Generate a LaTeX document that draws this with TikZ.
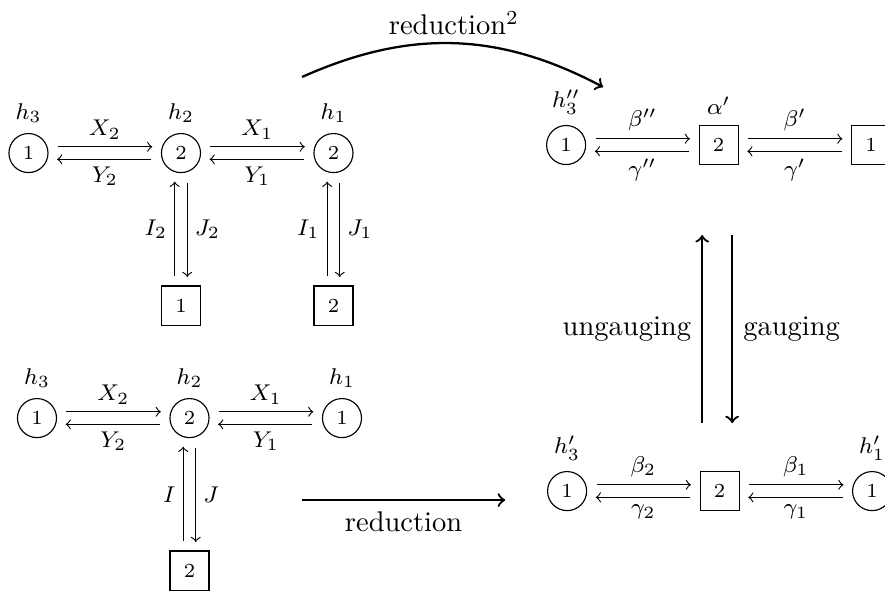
\documentclass[tikz,border=0pt]{standalone}
\usepackage{amsmath}
\usepackage{tikz}
\usetikzlibrary{positioning}
\tikzset{
  gnode/.style={draw, circle, minimum size=13.7pt, inner sep=0pt, font=\scriptsize},
  fnode/.style={draw, minimum size=13.7pt, inner sep=0pt, font=\scriptsize},
  lbl/.style={font=\footnotesize, inner sep=2.5pt},
  big/.style={inner sep=3.5pt},
  sig/.style={->, thin, shorten >=3pt, shorten <=3.3pt},
  bsig/.style={->, thick},
}
\begin{document}
\begin{tikzpicture}[node distance=1.88cm, on grid, label distance=1pt]
    \useasboundingbox (0,0) rectangle (10.91,-7.31);
    % upper left quiver
    \node[gnode,label={[lbl]above:$h_3$}] (u3) at (0.351,-1.887) {1};
    \node[gnode,right=of u3,label={[lbl]above:$h_2$}] (u2) {2};
    \node[gnode,right=of u2,label={[lbl]above:$h_1$}] (u1) {2};
    \node[fnode,below=of u2] (uf2) {1};
    \node[fnode,below=of u1] (uf1) {2};
    \draw[sig] ([yshift=2.2pt]u3.east) -- node[lbl,above]{$X_2$} ([yshift=2.2pt]u2.west);
    \draw[sig] ([yshift=-2.2pt]u2.west) -- node[lbl,below]{$Y_2$} ([yshift=-2.2pt]u3.east);
    \draw[sig] ([yshift=2.2pt]u2.east) -- node[lbl,above]{$X_1$} ([yshift=2.2pt]u1.west);
    \draw[sig] ([yshift=-2.2pt]u1.west) -- node[lbl,below]{$Y_1$} ([yshift=-2.2pt]u2.east);
    \draw[sig] ([xshift=-2.2pt]uf2.north) -- node[lbl,left]{$I_2$} ([xshift=-2.2pt]u2.south);
    \draw[sig] ([xshift=2.2pt]u2.south) -- node[lbl,right]{$J_2$} ([xshift=2.2pt]uf2.north);
    \draw[sig] ([xshift=-2.2pt]uf1.north) -- node[lbl,left]{$I_1$} ([xshift=-2.2pt]u1.south);
    \draw[sig] ([xshift=2.2pt]u1.south) -- node[lbl,right]{$J_1$} ([xshift=2.2pt]uf1.north);
    % lower left quiver
    \node[gnode,label={[lbl]above:$h_3$}] (l3) at (0.456,-5.154) {1};
    \node[gnode,right=of l3,label={[lbl]above:$h_2$}] (l2) {2};
    \node[gnode,right=of l2,label={[lbl]above:$h_1$}] (l1) {1};
    \node[fnode,below=of l2] (lf) {2};
    \draw[sig] ([yshift=2.2pt]l3.east) -- node[lbl,above]{$X_2$} ([yshift=2.2pt]l2.west);
    \draw[sig] ([yshift=-2.2pt]l2.west) -- node[lbl,below]{$Y_2$} ([yshift=-2.2pt]l3.east);
    \draw[sig] ([yshift=2.2pt]l2.east) -- node[lbl,above]{$X_1$} ([yshift=2.2pt]l1.west);
    \draw[sig] ([yshift=-2.2pt]l1.west) -- node[lbl,below]{$Y_1$} ([yshift=-2.2pt]l2.east);
    \draw[sig] ([xshift=-2.2pt]lf.north) -- node[lbl,left]{$I$} ([xshift=-2.2pt]l2.south);
    \draw[sig] ([xshift=2.2pt]l2.south) -- node[lbl,right]{$J$} ([xshift=2.2pt]lf.north);
    % upper right quiver
    \node[gnode,label={[lbl]above:$h_3''$}] (r3) at (6.979,-1.788) {1};
    \node[fnode,right=of r3,label={[lbl]above:$\alpha'$}] (ra) {2};
    \node[fnode,right=of ra] (rf) {1};
    \draw[sig] ([yshift=2.2pt]r3.east) -- node[lbl,above]{$\beta''$} ([yshift=2.2pt]ra.west);
    \draw[sig] ([yshift=-2.2pt]ra.west) -- node[lbl,below]{$\gamma''$} ([yshift=-2.2pt]r3.east);
    \draw[sig] ([yshift=2.2pt]ra.east) -- node[lbl,above]{$\beta'$} ([yshift=2.2pt]rf.west);
    \draw[sig] ([yshift=-2.2pt]rf.west) -- node[lbl,below]{$\gamma'$} ([yshift=-2.2pt]ra.east);
    % lower right quiver
    \node[gnode,label={[lbl]above:$h_3'$}] (g3) at (6.991,-6.054) {1};
    \node[fnode,right=of g3] (gf) {2};
    \node[gnode,right=of gf,label={[lbl]above:$h_1'$}] (g1) {1};
    \draw[sig] ([yshift=2.2pt]g3.east) -- node[lbl,above]{$\beta_2$} ([yshift=2.2pt]gf.west);
    \draw[sig] ([yshift=-2.2pt]gf.west) -- node[lbl,below]{$\gamma_2$} ([yshift=-2.2pt]g3.east);
    \draw[sig] ([yshift=2.2pt]gf.east) -- node[lbl,above]{$\beta_1$} ([yshift=2.2pt]g1.west);
    \draw[sig] ([yshift=-2.2pt]g1.west) -- node[lbl,below]{$\gamma_1$} ([yshift=-2.2pt]gf.east);
    % maps between quivers
    \coordinate (rs) at (3.724,-0.949);
    \coordinate (re) at (7.435,-1.073);
    \coordinate (ds) at (3.724,-6.165);
    \coordinate (de) at (6.227,-6.165);
    \coordinate (ub) at (8.656,-5.216);
    \coordinate (ut) at (8.656,-2.898);
    \coordinate (gt) at (9.026,-2.898);
    \coordinate (gb) at (9.026,-5.216);
    \draw[bsig] (rs) to[bend left=26] node[big,above,inner sep=2.5pt]{reduction$^2$} (re);
    \draw[bsig] (ds) -- node[big,below]{reduction} (de);
    \draw[bsig] (ub) -- node[big,left]{ungauging} (ut);
    \draw[bsig] (gt) -- node[big,right]{gauging} (gb);
  \end{tikzpicture}
\end{document}
